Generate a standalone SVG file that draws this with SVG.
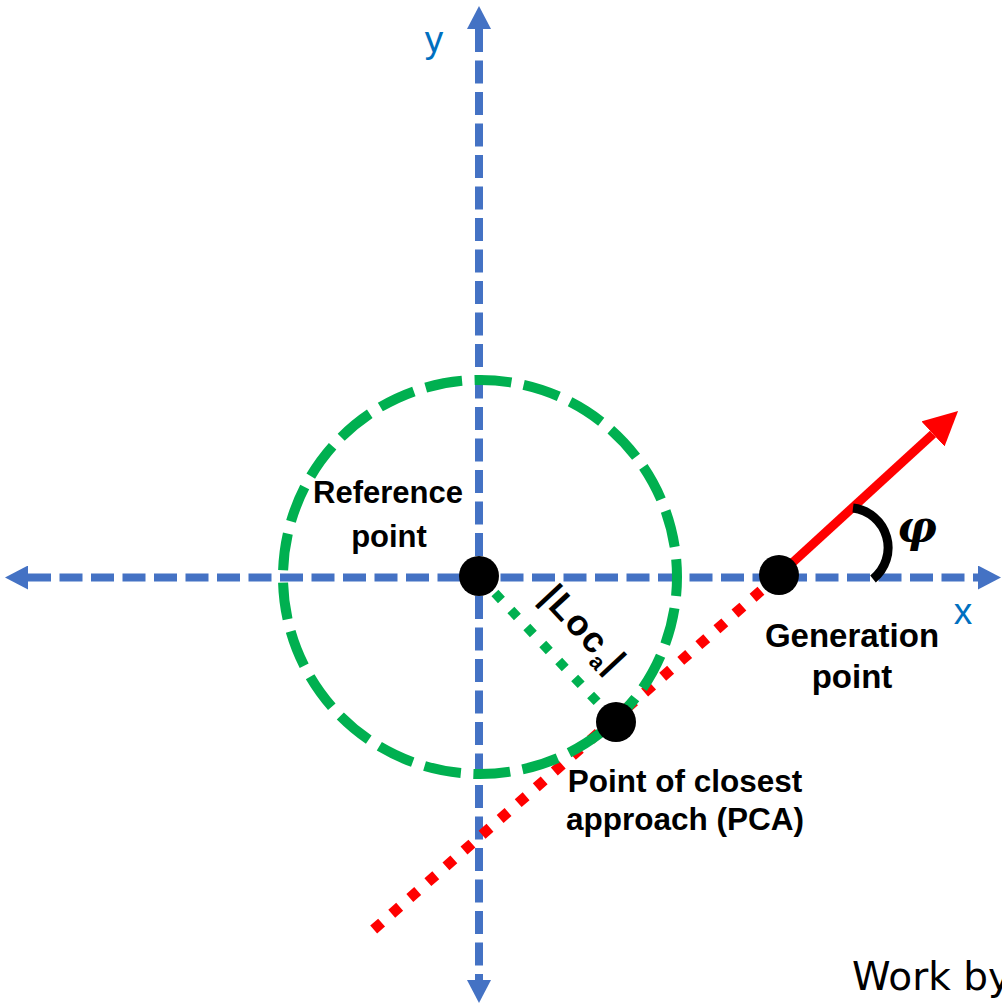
<svg xmlns="http://www.w3.org/2000/svg" width="1002" height="1003" viewBox="0 0 1002 1003">
<style>
.axis{stroke:#4472C4;stroke-width:8;stroke-dasharray:23 8.5;fill:none}
.lbl{font-family:"Liberation Sans",Arial,sans-serif;font-weight:bold;fill:#000;text-anchor:middle}
.axl{font-family:"Liberation Sans",Arial,sans-serif;fill:#0070C0;font-size:37px;text-anchor:middle}
.dot{fill:#000}
</style>
<defs>
<marker id="ah" viewBox="0 -12 23 24" refX="0" refY="0" markerWidth="23" markerHeight="24" markerUnits="userSpaceOnUse" orient="auto-start-reverse">
<path d="M0,-12 L23,0 L0,12 Z" fill="#4472C4"/>
</marker>
<marker id="rh" viewBox="0 -17 34 34" refX="0" refY="0" markerWidth="34" markerHeight="34" markerUnits="userSpaceOnUse" orient="auto">
<path d="M0,-17 L34,0 L0,17 Z" fill="#FF0000"/>
</marker>
</defs>
<rect width="1002" height="1003" fill="#fff"/>
<g id="axes">
<line class="axis" x1="28" y1="577.5" x2="978" y2="577.5" marker-start="url(#ah)" marker-end="url(#ah)"/>
<line class="axis" x1="479" y1="29" x2="479" y2="980" marker-start="url(#ah)" marker-end="url(#ah)"/>
<text class="axl" x="434" y="52">y</text>
<text class="axl" x="963" y="624">x</text>
</g>
<g id="connectors">
<line x1="779" y1="575" x2="372" y2="931" stroke="#FF0000" stroke-width="10.5" stroke-dasharray="10.5 13.5"/>
<line x1="779" y1="575" x2="933" y2="434" stroke="#FF0000" stroke-width="9" marker-end="url(#rh)"/>
</g>
<g id="circle">
<circle cx="480" cy="577" r="197" fill="none" stroke="#00B050" stroke-width="10" stroke-dasharray="37 12.5" stroke-dashoffset="18"/>
<line x1="479" y1="576" x2="616" y2="722" stroke="#00B050" stroke-width="9.5" stroke-dasharray="9.5 13.8"/>
<text class="lbl" font-size="36" letter-spacing="1.5" transform="translate(575,637) rotate(47)">|Loc<tspan font-size="22" dy="8">a</tspan><tspan dy="-8">|</tspan></text>
</g>
<g id="angle">
<path d="M853,508 A40,40 0 0 1 873,579" fill="none" stroke="#000" stroke-width="9"/>
<text x="897" y="542" font-family="'DejaVu Serif',serif" font-style="italic" font-weight="bold" font-size="44">φ</text>
</g>
<g id="node-reference">
<circle class="dot" cx="479" cy="576" r="20"/>
<text class="lbl" font-size="31" x="388" y="503">Reference</text>
<text class="lbl" font-size="31" x="389" y="547">point</text>
</g>
<g id="node-generation">
<circle class="dot" cx="779" cy="575" r="20"/>
<text class="lbl" font-size="33" x="852" y="647">Generation</text>
<text class="lbl" font-size="33" x="852" y="688">point</text>
</g>
<g id="node-pca">
<circle class="dot" cx="616" cy="722" r="20"/>
<text class="lbl" font-size="31.5" x="685" y="792">Point of closest</text>
<text class="lbl" font-size="31.5" x="685" y="830">approach (PCA)</text>
</g>
<text x="852" y="990" font-family="'DejaVu Sans',sans-serif" font-size="39" fill="#000">Work by</text>
</svg>
